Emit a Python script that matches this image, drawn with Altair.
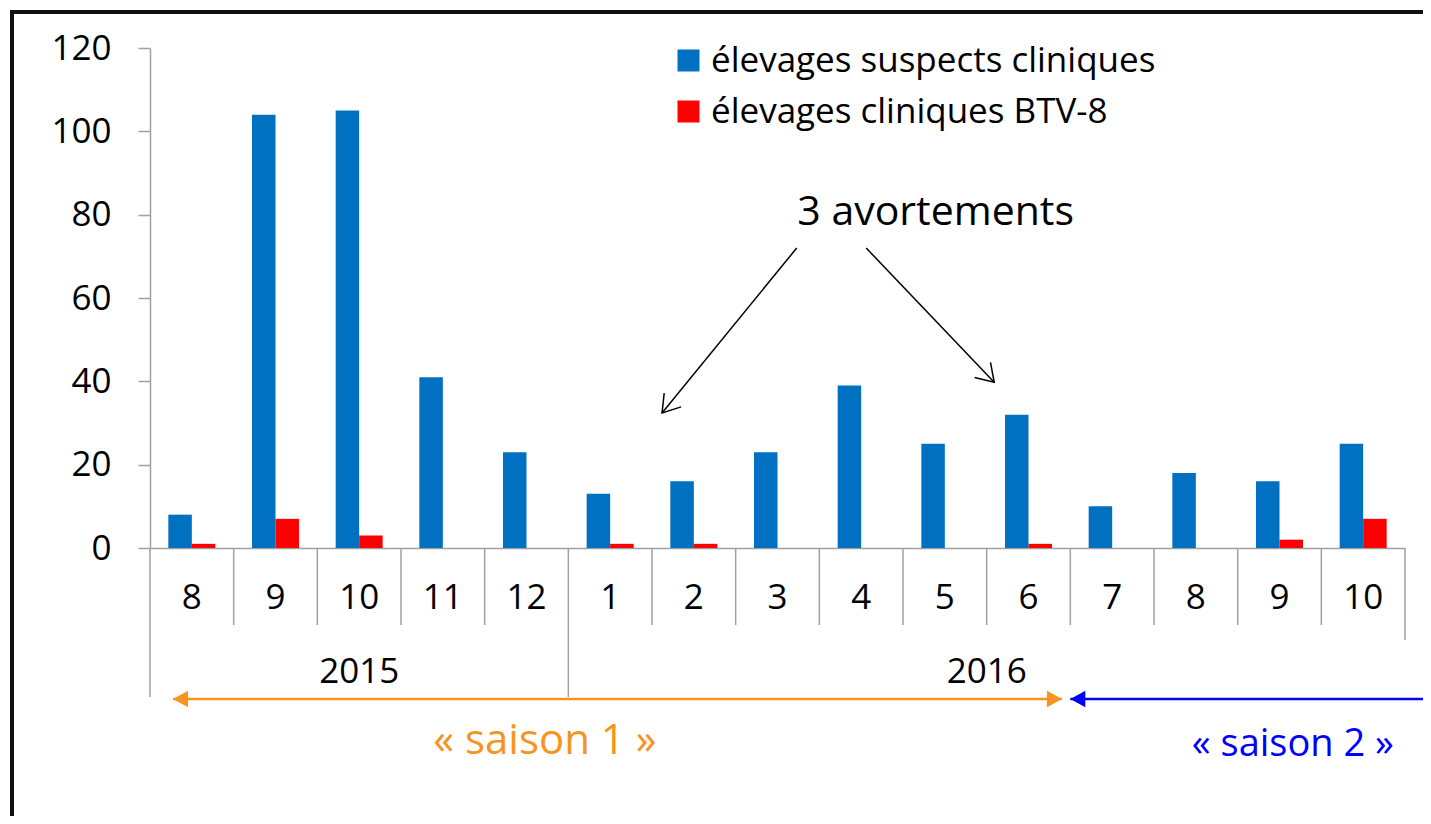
import math
import altair as alt
import pandas as pd

# ---------------- data ----------------
years = ["2015"] * 5 + ["2016"] * 10
months = ["8", "9", "10", "11", "12", "1", "2", "3", "4", "5", "6", "7", "8", "9", "10"]
suspects = [8, 104, 105, 41, 23, 13, 16, 23, 39, 25, 32, 10, 18, 16, 25]
btv8 = [1, 7, 3, 0, 0, 1, 1, 0, 0, 0, 1, 0, 0, 2, 7]
series_names = ["élevages suspects cliniques", "élevages cliniques BTV-8"]
series_colors = ["#0070C0", "#FF0000"]

year_labels = ["2015", "2016"]
year_start = [0, 5]
year_end = [5, 15]

# annotation "3 avortements" (x in category-index units, y in chart units)
note_text = ["3 avortements"]
note_x = [9.39]
note_y = [80.4]
arrow_from_x = [7.73, 8.56]
arrow_from_y = [72.0, 72.0]
arrow_to_x = [6.12, 10.09]
arrow_to_y = [32.4, 39.8]

# seasons
season_labels = ["« saison 1 »", "« saison 2 »"]
season_colors = ["#F7941D", "#0000FF"]
season_start = [0.275, 11.0]
season_end = [10.9, 15.6]
season_label_x = [4.72, 13.66]
season_font = [42, 38]
season_label_y = [693, 697]
season_head_end = [True, False]

# ---------------- layout / style ----------------
W, H = 1255, 500
FONT = "Open Sans"
GRAY = "#A0A0A0"
N = len(months)
keys = [f"{y}-{m}-{i}" for i, (y, m) in enumerate(zip(years, months))]

xq = alt.Scale(domain=[0, N], nice=False, zero=False)
ys = alt.Scale(domain=[0, 120], nice=False)

bars_df = pd.DataFrame(
    {"key": keys * 2,
     "series": [series_names[0]] * N + [series_names[1]] * N,
     "value": suspects + btv8}
)

bars = alt.Chart(bars_df).mark_bar().encode(
    x=alt.X("key:N", sort=keys,
            scale=alt.Scale(domain=keys, paddingInner=0, paddingOuter=0),
            axis=alt.Axis(labels=False, ticks=False, title=None, grid=False,
                          domainColor=GRAY, domainWidth=1.5)),
    xOffset=alt.XOffset("series:N", sort=series_names,
                        scale=alt.Scale(domain=series_names, paddingInner=0, paddingOuter=0.78)),
    y=alt.Y("value:Q", scale=ys,
            axis=alt.Axis(values=[0, 20, 40, 60, 80, 100, 120], title=None, grid=False,
                          tickSize=12, tickColor=GRAY, tickWidth=1.5,
                          domainColor=GRAY, domainWidth=1.5,
                          labelPadding=27, labelFontSize=35, labelFont=FONT,
                          labelColor="#000000")),
    color=alt.Color("series:N",
                    scale=alt.Scale(domain=series_names, range=series_colors),
                    legend=alt.Legend(orient="none", legendX=521, legendY=-5, title=None,
                                      symbolType="square", symbolSize=484,
                                      symbolStrokeWidth=0, symbolOpacity=1,
                                      labelFontSize=35, labelFont=FONT, labelColor="#000000",
                                      labelOffset=5, rowPadding=15, padding=0,
                                      labelLimit=0)),
)

# separators of the category axis
month_sep = pd.DataFrame({"pos": [i for i in range(1, N) if i not in year_start]})
year_sep = pd.DataFrame({"pos": year_start})
end_sep = pd.DataFrame({"pos": [N]})

def sep_layer(df, bottom):
    return alt.Chart(df).mark_rule(color=GRAY, strokeWidth=1.5).encode(
        x=alt.X("pos:Q", scale=xq, axis=None),
        y=alt.value(H),
        y2=alt.value(bottom),
    )

seps = [sep_layer(month_sep, 577), sep_layer(year_sep, 649), sep_layer(end_sep, 592)]

month_df = pd.DataFrame({"idx": list(range(N)), "month": months})
month_labels = alt.Chart(month_df).transform_calculate(
    mid="datum.idx + 0.5"
).mark_text(font=FONT, fontSize=35, color="#000000", baseline="middle").encode(
    x=alt.X("mid:Q", scale=xq, axis=None),
    y=alt.value(550),
    text="month:N",
)

year_df = pd.DataFrame({"year": year_labels, "start": year_start, "end": year_end})
year_text = alt.Chart(year_df).transform_calculate(
    mid="(datum.start + datum.end) / 2"
).mark_text(font=FONT, fontSize=35, color="#000000", baseline="middle").encode(
    x=alt.X("mid:Q", scale=xq, axis=None),
    y=alt.value(624),
    text="year:N",
)

# "3 avortements" annotation
note_df = pd.DataFrame({"t": note_text, "x": note_x, "y": note_y})
note = alt.Chart(note_df).mark_text(font=FONT, fontSize=41, color="#000000",
                                    baseline="middle").encode(
    x=alt.X("x:Q", scale=xq, axis=None),
    y=alt.Y("y:Q", scale=ys, title=None),
    text="t:N",
)

angles = []
for x0, y0, x1, y1 in zip(arrow_from_x, arrow_from_y, arrow_to_x, arrow_to_y):
    dxp = (x1 - x0) * W / N
    dyp = -(y1 - y0) * H / 120
    angles.append(math.degrees(math.atan2(dyp, dxp)) % 360)

arr_df = pd.DataFrame({"x0": arrow_from_x, "y0": arrow_from_y,
                       "x1": arrow_to_x, "y1": arrow_to_y, "ang": angles})
arr_lines = alt.Chart(arr_df).mark_rule(color="#000000", strokeWidth=1.5).encode(
    x=alt.X("x0:Q", scale=xq, axis=None), x2="x1:Q",
    y=alt.Y("y0:Q", scale=ys, title=None), y2="y1:Q",
)
CHEVRON = "M -1 -0.65 L 0 0 L -1 0.65"
arr_heads = alt.Chart(arr_df).mark_point(shape=CHEVRON, filled=False, size=1130,
                                         strokeWidth=1.5, color="#000000", opacity=1).encode(
    x=alt.X("x1:Q", scale=xq, axis=None),
    y=alt.Y("y1:Q", scale=ys, title=None),
    angle=alt.Angle("ang:Q", scale=None),
)

# season arrows
TRI = "M 0 0 L -1 -0.55 L -1 0.55 Z"
season_layers = []
for lab, col, s, e, lx, fs, ly, both in zip(season_labels, season_colors, season_start,
                                             season_end, season_label_x, season_font,
                                             season_label_y, season_head_end):
    sdf = pd.DataFrame({"s": [s], "e": [e], "lx": [lx], "lab": [lab]})
    line = alt.Chart(sdf).mark_rule(color=col, strokeWidth=2.5).encode(
        x=alt.X("s:Q", scale=xq, axis=None), x2="e:Q", y=alt.value(651),
    )
    head_l = alt.Chart(sdf).mark_point(shape=TRI, filled=True, size=900, color=col,
                                       opacity=1, angle=180).encode(
        x=alt.X("s:Q", scale=xq, axis=None), y=alt.value(651),
    )
    txt = alt.Chart(sdf).mark_text(font=FONT, fontSize=fs, color=col,
                                   baseline="middle").encode(
        x=alt.X("lx:Q", scale=xq, axis=None), y=alt.value(ly), text="lab:N",
    )
    season_layers += [line, head_l, txt]
    if both:
        head_r = alt.Chart(sdf).mark_point(shape=TRI, filled=True, size=900, color=col,
                                           opacity=1, angle=0).encode(
            x=alt.X("e:Q", scale=xq, axis=None), y=alt.value(651),
        )
        season_layers.append(head_r)

# outer frame
frame = alt.Chart(pd.DataFrame({"a": [0]})).mark_rect(
    fillOpacity=0, stroke="#111111", strokeWidth=4
).encode(
    x=alt.value(-138), x2=alt.value(1400), y=alt.value(-36), y2=alt.value(900)
)

chart = alt.layer(
    bars, *seps, month_labels, year_text, note, arr_lines, arr_heads, *season_layers, frame
).resolve_scale(
    x="independent"
).properties(
    width=W, height=H,
    autosize=alt.AutoSizeParams(type="none"),
    padding={"left": 142, "top": 40, "right": 18, "bottom": 268},
).configure(font=FONT).configure_view(strokeWidth=0)

chart.save("out.html", embed_options={"renderer": "svg", "actions": False})
